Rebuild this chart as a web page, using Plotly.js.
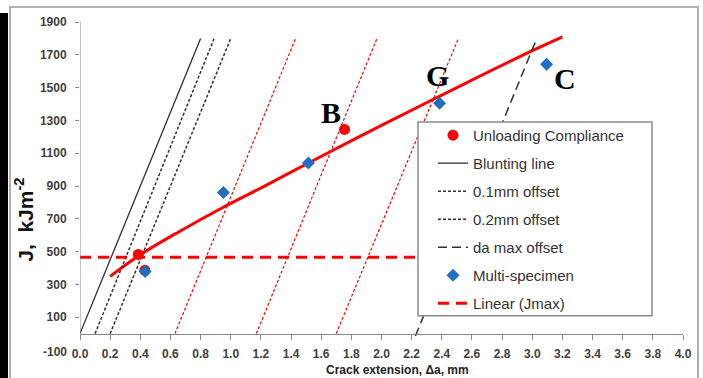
<!DOCTYPE html>
<html>
<head>
<meta charset="utf-8">
<script src="https://cdn.plot.ly/plotly-3.0.1.min.js"></script>
<style>html,body{margin:0;padding:0;background:#fff;}#chart{width:703px;height:378px;}</style>
</head>
<body>
<div id="chart"></div>
<script>
// ---- data ----
const xTickVals = [0,0.2,0.4,0.6,0.8,1.0,1.2,1.4,1.6,1.8,2.0,2.2,2.4,2.6,2.8,3.0,3.2,3.4,3.6,3.8,4.0];
const yTickVals = [100,300,500,700,900,1100,1300,1500,1700,1900];

const ucX = [0.387, 0.43, 1.755];          // Unloading Compliance
const ucJ = [483, 386, 1245];
const msX = [0.432, 0.951, 1.515, 2.385, 3.095];   // Multi-specimen
const msJ = [378, 861, 1040, 1405, 1642];

const fitX = [0.2, 0.4, 0.66, 0.96, 1.24, 1.515, 2.0, 2.5, 3.0, 3.2];   // R-curve fit
const fitJ = [349, 481, 623, 775, 907, 1040, 1270, 1500, 1725, 1810];

const bluntX = [0, 0.8];
const off01X = [0.1, 0.89];
const off02X = [0.2, 1.0];
const lineJ  = [0, 1800];
const damaxX = [2.225, 3.03];
const damaxJ = [-15, 1800];

const ul1X = [0.63, 1.43];
const ul2X = [1.17, 1.97];
const ul3X = [1.70, 2.51];

const jmaxX = [0, 3.5];
const jmaxJ = [465, 465];

const labelText = ['B', 'G', 'C'];
const labelX = [1.665, 2.37, 3.22];
const labelJ = [1346, 1571, 1553];

// ---- traces ----
const red = '#ff0000';
const blue = '#1f6fc5';
const dark = '#303030';

const traces = [
  {x: fitX, y: fitJ, mode: 'lines', line: {color: red, width: 3, shape: 'spline', smoothing: 1}, showlegend: false},
  {x: ul1X, y: lineJ, mode: 'lines', line: {color: red, width: 1.2, dash: '3px,2px'}, showlegend: false},
  {x: ul2X, y: lineJ, mode: 'lines', line: {color: red, width: 1.2, dash: '3px,2px'}, showlegend: false},
  {x: ul3X, y: lineJ, mode: 'lines', line: {color: red, width: 1.2, dash: '3px,2px'}, showlegend: false},
  {name: 'Blunting line', x: bluntX, y: lineJ, mode: 'lines', line: {color: dark, width: 1.3}, legendgroup: 'g2', legendrank: 2},
  {name: '0.1mm offset', x: off01X, y: lineJ, mode: 'lines', line: {color: dark, width: 1.5, dash: '3px,2px'}, legendgroup: 'g3', legendrank: 3},
  {name: '0.2mm offset', x: off02X, y: lineJ, mode: 'lines', line: {color: dark, width: 1.5, dash: '3px,2px'}, legendgroup: 'g4', legendrank: 4},
  {name: 'da max offset', x: damaxX, y: damaxJ, mode: 'lines', line: {color: dark, width: 1.5, dash: '9px,5px'}, legendgroup: 'g5', legendrank: 5},
  {name: 'Linear (Jmax)', x: jmaxX, y: jmaxJ, mode: 'lines', line: {color: red, width: 3, dash: '11px,7px'}, legendgroup: 'g7', legendrank: 7},
  {name: 'Unloading Compliance', x: ucX, y: ucJ, mode: 'markers', marker: {color: red, size: 11, symbol: 'circle'}, legendgroup: 'g1', legendrank: 1},
  {name: 'Multi-specimen', x: msX, y: msJ, mode: 'markers', marker: {color: blue, size: 10, symbol: 'diamond'}, legendgroup: 'g6', legendrank: 6}
];

// pixel -> paper helpers for decoration (plot area: x 80..683, y 21.9..350.4)
const L = 80, R = 20, T = 22, B = 27.6, W = 703, H = 378;
const pw = W - L - R, ph = H - T - B;
const px = v => (v - L) / pw;
const py = v => (H - B - v) / ph;

const annotations = labelText.map((t, i) => ({
  text: '<b>' + t + '</b>', x: labelX[i], y: labelJ[i], xref: 'x', yref: 'y',
  showarrow: false, font: {family: 'Liberation Serif, Times New Roman, serif', size: 30, color: '#000'}
}));
annotations.push({
  text: '-100', x: 0, y: -100, xref: 'x', yref: 'y', xanchor: 'right', yanchor: 'middle',
  xshift: -11, yshift: -2, showarrow: false,
  font: {family: 'Liberation Sans, Arial, sans-serif', size: 12, color: '#404040', weight: 'bold'}
});
annotations.push({
  text: '<b>J,  kJm<sup>-2</sup></b>', x: px(24), y: py(220), xref: 'paper', yref: 'paper',
  textangle: -90, showarrow: false, xanchor: 'center', yanchor: 'middle',
  font: {family: 'Liberation Sans, Arial, sans-serif', size: 21, color: '#111'}
});
annotations.push({
  text: '<b>Crack extension, Δa, mm</b>', x: px(397), y: py(370), xref: 'paper', yref: 'paper',
  showarrow: false, xanchor: 'center', yanchor: 'middle',
  font: {family: 'Liberation Sans, Arial, sans-serif', size: 12, color: '#222'}
});

const shapes = [
  // y-axis line from 0 to 1900
  {type: 'line', xref: 'x', yref: 'y', x0: 0, x1: 0, y0: 0, y1: 1900, line: {color: '#888', width: 1}, layer: 'above'},
  // legend box
  {type: 'rect', xref: 'paper', yref: 'paper', x0: px(418), x1: px(652), y0: py(316), y1: py(122),
   fillcolor: '#fff', line: {color: '#8a8a8a', width: 1.5}, layer: 'above'},
  // outer frame
  {type: 'rect', xref: 'paper', yref: 'paper', x0: px(10), x1: px(698), y0: py(385), y1: py(7),
   fillcolor: 'rgba(0,0,0,0)', line: {color: '#b0b0b0', width: 2}, layer: 'above'},
  // left black bar
  {type: 'rect', xref: 'paper', yref: 'paper', x0: px(-2), x1: px(8), y0: py(385), y1: py(13),
   fillcolor: '#000', line: {width: 0}, layer: 'above'}
];

const tickFont = {family: 'Liberation Sans, Arial, sans-serif', size: 12, color: '#404040', weight: 'bold'};

const layout = {
  width: W, height: H,
  margin: {l: L, r: R, t: T, b: B, pad: 0},
  paper_bgcolor: '#fff', plot_bgcolor: '#fff',
  showlegend: true,
  legend: {
    x: px(433), y: py(119), xanchor: 'left', yanchor: 'top',
    bgcolor: 'rgba(0,0,0,0)', borderwidth: 0,
    traceorder: 'grouped', tracegroupgap: 5.5,
    font: {family: 'Liberation Sans, Arial, sans-serif', size: 15, color: '#333'}
  },
  xaxis: {
    range: [0, 4.0], anchor: 'free', position: 0.05,
    tickvals: xTickVals, tickformat: '.1f',
    ticks: 'outside', ticklen: 5, tickcolor: '#888', tickwidth: 1,
    showline: true, linecolor: '#888', linewidth: 1,
    showgrid: false, zeroline: false,
    ticklabelstandoff: 4,
    tickfont: tickFont
  },
  yaxis: {
    range: [-100, 1900],
    tickvals: yTickVals,
    ticks: 'outside', ticklen: 4, tickcolor: '#888', tickwidth: 1,
    showline: false, showgrid: false, zeroline: false,
    ticklabelstandoff: 6,
    tickfont: tickFont
  },
  annotations: annotations,
  shapes: shapes
};

Plotly.newPlot('chart', traces, layout, {displayModeBar: false, staticPlot: true});
</script>
</body>
</html>
